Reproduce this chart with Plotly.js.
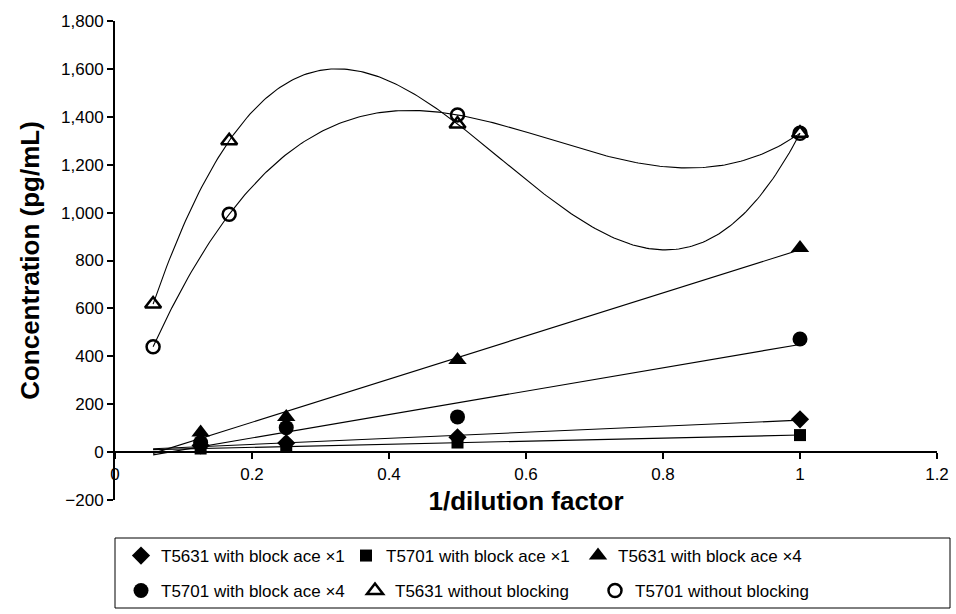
<!DOCTYPE html>
<html>
<head>
<meta charset="utf-8">
<script src="https://cdn.plot.ly/plotly-3.0.1.min.js"></script>
<style>html,body{margin:0;padding:0;background:#fff;}#chart{width:956px;height:614px;}</style>
</head>
<body>
<div id="chart"></div>
<script>
// ---- data ----
const xBlocked = [0.125, 0.25, 0.5, 1];
const t5631Block1 = [28, 38, 62, 137];
const t5701Block1 = [15, 22, 40, 71];
const t5631Block4 = [82, 147, 385, 852];
const t5701Block4 = [40, 102, 147, 472];

const xUnblocked = [0.0556, 0.1667, 0.5, 1];
const t5631None = [618, 1300, 1370, 1331];
const t5701None = [440, 993, 1408, 1331];

const trendStartX = 0.0556;   // linear trendlines are extended back to this x

const seriesNames = [
  'T5631 with block ace \u00d71',
  'T5701 with block ace \u00d71',
  'T5631 with block ace \u00d74',
  'T5701 with block ace \u00d74',
  'T5631 without blocking',
  'T5701 without blocking'
];

// ---- trendline helpers (derived from the data arrays) ----
function linFit(xs, ys) {
  const n = xs.length;
  const mx = xs.reduce((a, b) => a + b, 0) / n;
  const my = ys.reduce((a, b) => a + b, 0) / n;
  let sxy = 0, sxx = 0;
  for (let i = 0; i < n; i++) { sxy += (xs[i] - mx) * (ys[i] - my); sxx += (xs[i] - mx) ** 2; }
  const m = sxy / sxx;
  return { m: m, b: my - m * mx };
}
function linTrend(xs, ys) {
  const f = linFit(xs, ys);
  const x1 = Math.max.apply(null, xs);
  return { x: [trendStartX, x1], y: [f.m * trendStartX + f.b, f.m * x1 + f.b] };
}
// 3rd-order polynomial trendline through 4 points (exact fit)
function polyTrend(xs, ys) {
  const n = 240, x0 = xs[0], x1 = xs[xs.length - 1];
  const ox = [], oy = [];
  for (let k = 0; k <= n; k++) {
    const x = x0 + (x1 - x0) * k / n;
    let y = 0;
    for (let i = 0; i < xs.length; i++) {
      let L = 1;
      for (let j = 0; j < xs.length; j++) if (j !== i) L *= (x - xs[j]) / (xs[i] - xs[j]);
      y += ys[i] * L;
    }
    ox.push(x); oy.push(y);
  }
  return { x: ox, y: oy };
}

const lineStyle = { color: '#000', width: 1.1 };
const traces = [];

const blocked = [t5631Block1, t5701Block1, t5631Block4, t5701Block4];
blocked.forEach(ys => {
  const t = linTrend(xBlocked, ys);
  traces.push({ x: t.x, y: t.y, mode: 'lines', line: lineStyle, showlegend: false, hoverinfo: 'skip' });
});
[t5631None, t5701None].forEach(ys => {
  const t = polyTrend(xUnblocked, ys);
  traces.push({ x: t.x, y: t.y, mode: 'lines', line: lineStyle, showlegend: false, hoverinfo: 'skip' });
});

const markerDefs = [
  { symbol: 'diamond', size: 14 },
  { symbol: 'square', size: 12 },
  { symbol: 'triangle-up', size: 16 },
  { symbol: 'circle', size: 15 },
  { symbol: 'triangle-up-open', size: 14 },
  { symbol: 'circle-open', size: 13 }
];
const seriesX = [xBlocked, xBlocked, xBlocked, xBlocked, xUnblocked, xUnblocked];
const seriesY = [t5631Block1, t5701Block1, t5631Block4, t5701Block4, t5631None, t5701None];
const legendIds = ['legend', 'legend2', 'legend3', 'legend4', 'legend5', 'legend6'];

seriesY.forEach((ys, i) => {
  const open = markerDefs[i].symbol.indexOf('open') >= 0;
  traces.push({
    x: seriesX[i], y: ys, mode: 'markers', name: seriesNames[i],
    legend: legendIds[i],
    marker: {
      symbol: markerDefs[i].symbol, size: markerDefs[i].size, color: '#000',
      line: { color: '#000', width: open ? 2.5 : 0 }
    }
  });
});

// ---- layout ----
const W = 956, H = 614, ML = 115, MR = 19, MT = 21, MB = 114;
const pw = W - ML - MR, ph = H - MT - MB;
const px2x = p => (p - ML) / pw;
const py2y = p => (H - MB - p) / ph;

const FONT = 'Liberation Sans, Arial, Helvetica, sans-serif';
// legend entries: [symbol centre x px, row centre y px]
const legendPos = [[146, 556], [371, 556], [603, 556], [146, 591], [380, 591], [620, 591]];
const layout = {
  width: W, height: H,
  margin: { l: ML, r: MR, t: MT, b: MB, pad: 0, autoexpand: false },
  paper_bgcolor: '#fff', plot_bgcolor: '#fff',
  font: { family: FONT, color: '#000', size: 17 },
  xaxis: {
    range: [0, 1.2], tick0: 0, dtick: 0.2,
    showgrid: false, zeroline: false,
    showline: true, linecolor: '#000', linewidth: 2,
    ticks: 'outside', ticklen: 6, tickwidth: 2, tickcolor: '#000',
    anchor: 'free', position: 0.1, automargin: false,
    tickfont: { family: FONT, size: 17, color: '#000' },
    title: { text: '1/dilution factor', font: { family: FONT, size: 26, color: '#000', weight: 'bold' }, standoff: 8 }
  },
  yaxis: {
    range: [-200, 1800], tick0: -200, dtick: 200, tickformat: ',d',
    showgrid: false, zeroline: false, automargin: false,
    showline: true, linecolor: '#000', linewidth: 2,
    ticks: 'outside', ticklen: 6, tickwidth: 2, tickcolor: '#000',
    tickfont: { family: FONT, size: 17, color: '#000' },
    title: { text: 'Concentration (pg/mL)', font: { family: FONT, size: 26, color: '#000', weight: 'bold' }, standoff: 14 }
  },
  shapes: [{
    type: 'rect', xref: 'paper', yref: 'paper',
    x0: px2x(115), x1: px2x(950), y0: py2y(608), y1: py2y(538),
    line: { color: '#000', width: 1 }, fillcolor: 'rgba(0,0,0,0)', layer: 'below'
  }]
};
legendIds.forEach((id, i) => {
  layout[id] = {
    x: px2x(legendPos[i][0] - 25), y: py2y(legendPos[i][1]),
    xanchor: 'left', yanchor: 'middle', orientation: 'h',
    bgcolor: 'rgba(0,0,0,0)', borderwidth: 0,
    font: { family: FONT, size: 17, color: '#000' },
    itemwidth: 30
  };
});

Plotly.newPlot('chart', traces, layout, { displayModeBar: false, staticPlot: true });
</script>
</body>
</html>
